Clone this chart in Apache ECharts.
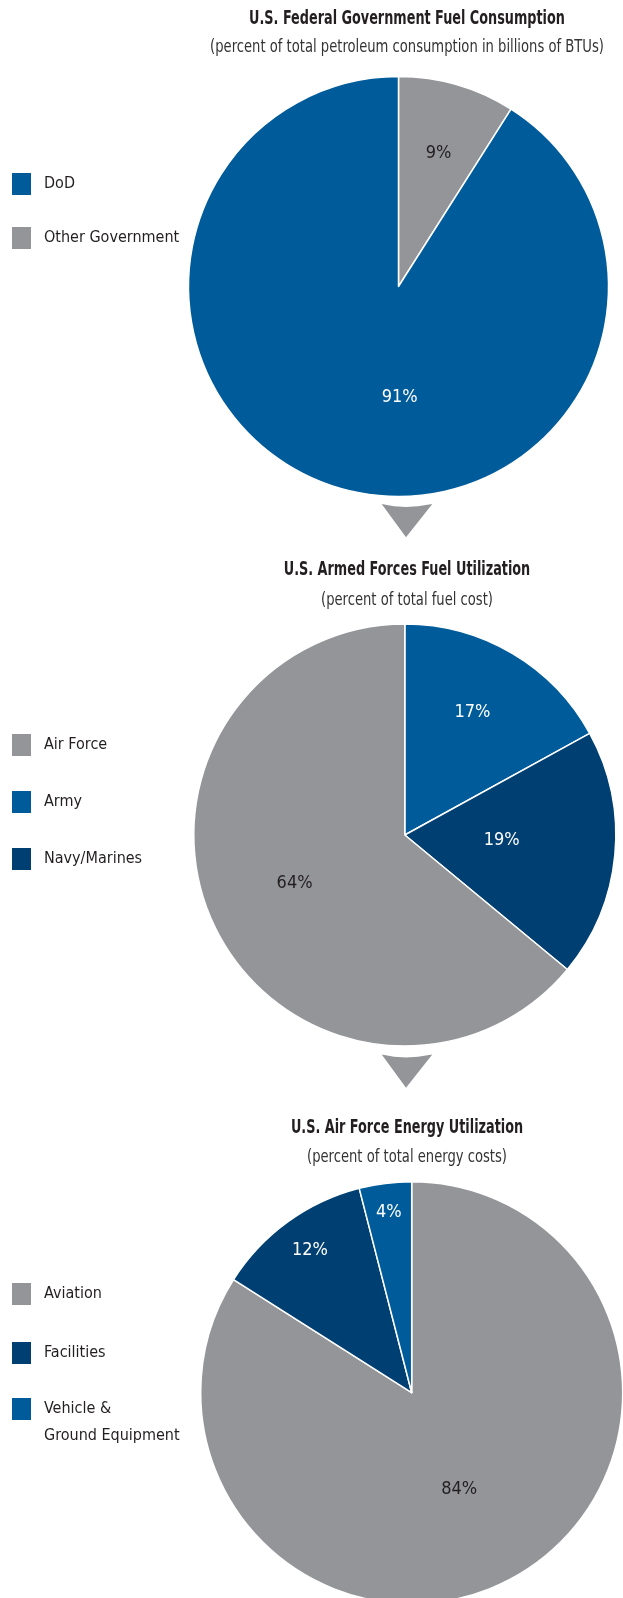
<!DOCTYPE html>
<html>
<head>
<meta charset="utf-8">
<script src="https://cdn.jsdelivr.net/npm/echarts@6/dist/echarts.min.js"></script>
<style>
  html, body { margin: 0; padding: 0; background: #fff; }
  #chart { width: 623px; height: 1598px; }
</style>
</head>
<body>
<div id="chart"></div>
<script>
// data
const fuelNames = ['Other Government', 'DoD'];
const fuelValues = [9, 91];
const armedNames = ['Army', 'Navy/Marines', 'Air Force'];
const armedValues = [17, 19, 64];
const airNames = ['Aviation', 'Facilities', 'Vehicle &\nGround Equipment'];
const airValues = [84, 12, 4];

const titles = [
  'U.S. Federal Government Fuel Consumption',
  'U.S. Armed Forces Fuel Utilization',
  'U.S. Air Force Energy Utilization'
];
const subtitles = [
  '(percent of total petroleum consumption in billions of BTUs)',
  '(percent of total fuel cost)',
  '(percent of total energy costs)'
];

// styling
const BLUE = '#005B9A';
const NAVY = '#003F72';
const GRAY = '#939598';
const INK = '#231F20';
const FONT = "'DejaVu Sans Condensed', 'DejaVu Sans', sans-serif";

const fuelColors = [GRAY, BLUE];
const armedColors = [BLUE, NAVY, GRAY];
const airColors = [GRAY, NAVY, BLUE];

const pies = [
  { center: [398.5, 286.5], r: 210 },
  { center: [404.8, 835], r: 211 },
  { center: [411.7, 1392.7], r: 211 }
];

// where each percentage sits: [fraction of radius, degrees off the slice middle]
const fuelSpots = [[0.66, 0.6], [0.53, -16.8]];
const armedSpots = [[0.664, -1.7], [0.46, -2.4], [0.57, 1.6]];
const airSpots = [[0.51, 2.6], [0.83, 0.5], [0.862, 0]];

// title / subtitle vertical middles
const titleY = [19.5, 570.5, 1128];
const subtitleY = [47.5, 600.5, 1157.5];

function makeData(names, values, colors) {
  return names.map((name, i) => ({
    name: name,
    value: values[i],
    itemStyle: { color: colors[i] },
    label: { color: colors[i] === GRAY ? INK : '#fff' }
  }));
}

function placeLabels(pie, values, spots) {
  const total = values.reduce((a, b) => a + b, 0);
  return function (params) {
    const i = params.dataIndex;
    let before = 0;
    for (let k = 0; k < i; k++) before += values[k];
    const deg = (before + values[i] / 2) / total * 360 + spots[i][1];
    const rad = deg * Math.PI / 180;
    const d = spots[i][0] * pie.r;
    return {
      x: pie.center[0] + d * Math.sin(rad),
      y: pie.center[1] - d * Math.cos(rad),
      align: 'center',
      verticalAlign: 'middle'
    };
  };
}

function pieSeries(idx, names, values, colors, spots) {
  return {
    type: 'pie',
    center: pies[idx].center,
    radius: pies[idx].r,
    startAngle: 90,
    clockwise: true,
    avoidLabelOverlap: false,
    itemStyle: { borderColor: '#fff', borderWidth: 1.5 },
    label: {
      show: true,
      position: 'inside',
      formatter: '{c}%',
      fontFamily: FONT,
      fontSize: 18
    },
    labelLine: { show: false },
    labelLayout: placeLabels(pies[idx], values, spots),
    emphasis: { disabled: true },
    data: makeData(names, values, colors)
  };
}

function legend(names, top, gap, extra) {
  return Object.assign({
    orient: 'vertical',
    left: 12,
    top: top,
    padding: 0,
    itemWidth: 19,
    itemHeight: 22,
    itemGap: gap,
    icon: 'rect',
    selectedMode: false,
    itemStyle: { borderWidth: 0 },
    textStyle: {
      fontFamily: FONT,
      fontSize: 16,
      color: INK,
      lineHeight: 22,
      padding: [0, 0, 0, 8]
    },
    data: names
  }, extra || {});
}

// condensed heading text: the face is squeezed to match the narrow original
function heading(text, y, bold) {
  return {
    type: 'text',
    x: 407,
    y: y,
    scaleX: bold ? 0.75 : 0.79,
    style: {
      text: text,
      fontFamily: FONT,
      fontSize: bold ? 19 : 18.5,
      fontWeight: bold ? 'bold' : 'normal',
      fill: bold ? INK : '#333',
      align: 'center',
      verticalAlign: 'middle'
    }
  };
}

function arrow(top) {
  return {
    type: 'polygon',
    shape: {
      points: [
        [381.7, top], [394, top + 2.3], [406, top + 3], [418, top + 2.3],
        [432.3, top], [406, top + 33.3]
      ]
    },
    style: { fill: GRAY }
  };
}

const headings = [];
titles.forEach((t, i) => {
  headings.push(heading(t, titleY[i], true));
  headings.push(heading(subtitles[i], subtitleY[i], false));
});

const chart = echarts.init(document.getElementById('chart'), null, { renderer: 'canvas' });
chart.setOption({
  animation: false,
  backgroundColor: '#fff',
  legend: [
    legend(['DoD', 'Other Government'], 173, 32),
    legend(['Air Force', 'Army', 'Navy/Marines'], 734, 35),
    legend(['Aviation', 'Facilities'], 1283, 37),
    // two-line entry: a blank first line keeps "Vehicle &" level with its square
    legend([airNames[2]], 1368.5, 0, {
      formatter: name => '\n' + name,
      textStyle: {
        fontFamily: FONT,
        fontSize: 16,
        color: INK,
        lineHeight: 27,
        padding: [0, 0, 0, 8]
      }
    })
  ],
  graphic: headings.concat([arrow(504), arrow(1054.5)]),
  series: [
    pieSeries(0, fuelNames, fuelValues, fuelColors, fuelSpots),
    pieSeries(1, armedNames, armedValues, armedColors, armedSpots),
    pieSeries(2, airNames, airValues, airColors, airSpots)
  ]
});
</script>
</body>
</html>
